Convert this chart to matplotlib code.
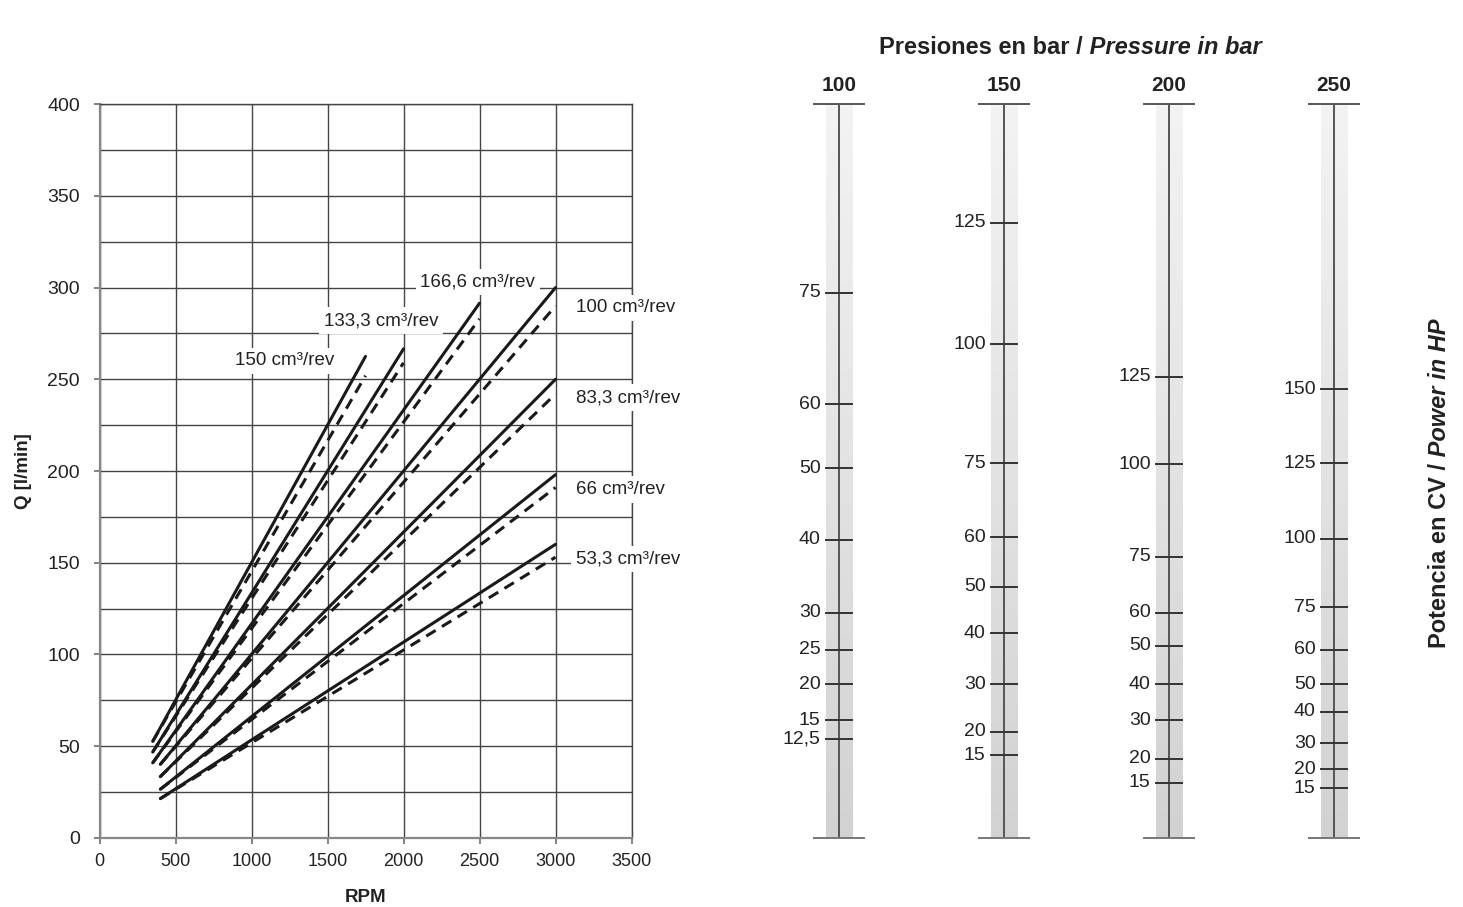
import numpy as np
import matplotlib.pyplot as plt
from matplotlib.colors import LinearSegmentedColormap

plt.rcParams['font.family'] = ['Liberation Sans', 'DejaVu Sans']

# rectas de caudal: Q [l/min] frente a RPM, teorica (continua) y real (discontinua)
labels = ['150 cm³/rev', '133,3 cm³/rev', '166,6 cm³/rev', '100 cm³/rev',
          '83,3 cm³/rev', '66 cm³/rev', '53,3 cm³/rev']
rpm_start = [350, 350, 350, 400, 400, 400, 400]
rpm_end = [1750, 2000, 2500, 3000, 3000, 3000, 3000]
q_start = [52.5, 46.7, 40.8, 40.0, 33.3, 26.4, 21.3]
q_end = [262.5, 266.6, 291.5, 300.0, 250.0, 198.0, 160.0]
q_end_dashed = [252, 259, 283, 290, 242, 191, 153]

# donde van los rotulos de cada recta (rpm, Q)
label_pos = [(890, 260), (1476, 282), (2111, 303), (3135, 289),
             (3135, 240), (3135, 190), (3135, 152)]

# nomograma de potencia: presion -> marcas (texto, Q equivalente)
pressures = ['100', '150', '200', '250']
power_labels = [
    ['75', '60', '50', '40', '30', '25', '20', '15', '12,5'],
    ['125', '100', '75', '60', '50', '40', '30', '20', '15'],
    ['125', '100', '75', '60', '50', '40', '30', '20', '15'],
    ['150', '125', '100', '75', '60', '50', '40', '30', '20', '15'],
]
power_q = [
    [297.2, 236.5, 201.6, 162.4, 122.7, 102.4, 83.7, 64.0, 53.8],
    [335.4, 269.1, 204.2, 163.8, 136.9, 111.5, 83.7, 57.8, 45.1],
    [251.4, 203.7, 153.3, 122.7, 104.6, 83.7, 64.0, 43.1, 30.0],
    [244.7, 204.2, 163.1, 125.7, 102.5, 83.7, 68.7, 51.5, 37.3, 26.9],
]

W, H = 1463, 907
fig = plt.figure(figsize=(W / 100, H / 100), dpi=100)
fig.patch.set_facecolor('white')

txt = '#222222'
grid = '#444444'

# ---------------- grafico Q / RPM ----------------
ax = fig.add_axes([99.5 / W, (H - 837.7) / H, 532 / W, 733.4 / H])
for i in range(len(labels)):
    ax.plot([rpm_start[i], rpm_end[i]], [q_start[i], q_end[i]],
            color='#1a1a1a', lw=2.2, solid_capstyle='round', zorder=3)
    ax.plot([rpm_start[i], rpm_end[i]], [q_start[i], q_end_dashed[i]],
            color='#1a1a1a', lw=2.2, dashes=(3.6, 2.4), zorder=3)
    ax.text(label_pos[i][0], label_pos[i][1], labels[i], ha='left', va='center',
            fontsize=13.5, color=txt, zorder=4, clip_on=False,
            bbox=dict(boxstyle='square,pad=0.25', fc='white', ec='none'))

ax.set_xlim(0, 3500)
ax.set_ylim(0, 400)
ax.set_xticks(range(0, 3501, 500))
ax.set_yticks(range(0, 401, 50))
ax.set_yticks(range(25, 400, 50), minor=True)
ax.grid(True, which='both', color=grid, lw=1.0, zorder=1)
ax.tick_params(axis='y', which='minor', length=0)
ax.tick_params(axis='both', which='major', direction='out', length=4,
               width=1.3, color='#777777', labelsize=14, labelcolor=txt)
ax.tick_params(axis='y', pad=10)
ax.tick_params(axis='x', pad=7, labelsize=13)
for s in ['top', 'right']:
    ax.spines[s].set_color(grid)
    ax.spines[s].set_linewidth(1.0)
for s in ['left', 'bottom']:
    ax.spines[s].set_color('#888888')
    ax.spines[s].set_linewidth(1.6)
ax.set_xlabel('RPM', fontsize=13.5, fontweight='bold', color=txt, labelpad=14)
ax.set_ylabel('Q [l/min]', fontsize=13.5, fontweight='bold', color=txt, labelpad=11)

# ---------------- nomograma de potencia ----------------
nx = fig.add_axes([756.5 / W, (H - 837.7) / H, 660 / W, 733.4 / H])

cmap = LinearSegmentedColormap.from_list('barra', ['#d2d2d2', '#f3f3f3'])
shade = np.linspace(0, 1, 200).reshape(-1, 1)
bw = 0.081
cw = 0.149
for i, p in enumerate(pressures):
    nx.imshow(shade, cmap=cmap, extent=[i - bw, i + bw, 0, 400],
              origin='lower', aspect='auto', zorder=1)
    nx.plot([i, i], [0, 400], color='#555555', lw=1.4, zorder=2)
    nx.plot([i - cw, i + cw], [400, 400], color='#555555', lw=1.4, zorder=2, clip_on=False)
    nx.plot([i - cw, i + cw], [0, 0], color='#777777', lw=1.4, zorder=2, clip_on=False)
    nx.annotate(p, (i, 400), xytext=(0, 9.8), textcoords='offset points',
                ha='center', va='baseline', fontsize=15, fontweight='bold',
                color=txt, annotation_clip=False)
    for lab, q in zip(power_labels[i], power_q[i]):
        nx.plot([i - bw, i + bw], [q, q], color='#333333', lw=1.4, zorder=3)
        nx.text(i - bw - 0.03, q, lab, ha='right', va='center',
                fontsize=14, color=txt)
nx.set_xlim(-0.5, 3.5)
nx.set_ylim(0, 400)
nx.axis('off')

# titulos del nomograma
t1 = fig.text(1083 / W, (H - 54.5) / H, 'Presiones en bar /', ha='right',
              va='baseline', fontsize=17, fontweight='bold', color=txt)
nx.annotate(' Pressure in bar', xy=(1, 0), xycoords=t1, ha='left', va='bottom',
            fontsize=17, fontweight='bold', style='italic', color=txt,
            annotation_clip=False)
r1 = fig.text(1440 / W, (H - 648) / H, 'Potencia en CV /', rotation=90,
              ha='center', va='bottom', fontsize=17, fontweight='bold', color=txt)
nx.annotate(' Power in HP', xy=(0.5, 1), xycoords=r1, rotation=90,
            ha='center', va='bottom', fontsize=17, fontweight='bold',
            style='italic', color=txt, annotation_clip=False)

fig.savefig('out.png', dpi=100, facecolor='white')
